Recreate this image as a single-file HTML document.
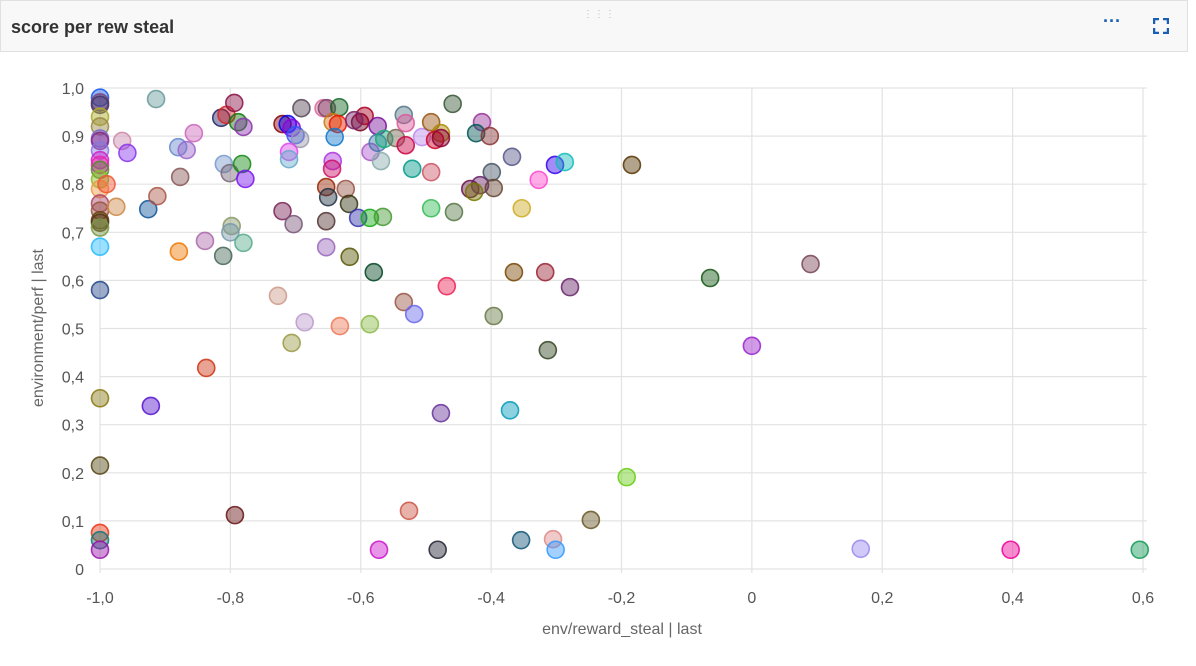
<!DOCTYPE html>
<html><head><meta charset="utf-8"><style>
body{margin:0;width:1196px;height:666px;background:#fff;font-family:"Liberation Sans",sans-serif;overflow:hidden}
#hdr{position:absolute;left:0;top:0;width:1186px;height:50px;background:#f8f8f8;border:1px solid #e0e0e0}
#title{position:absolute;left:10px;top:16px;font-size:18px;font-weight:bold;color:#333}
svg{position:absolute;left:0;top:0}
</style></head><body>
<div id="hdr">
<div id="title">score per rew steal</div>
<div style="position:absolute;left:582px;top:8px;color:#bbb;font-size:10px;letter-spacing:1px">⋮⋮⋮</div>
<div style="position:absolute;left:1102px;top:10px;color:#1a5fb4;font-size:18px;font-weight:bold">···</div>
<div style="position:absolute;left:1152px;top:17px;width:16px;height:16px">
<svg width="16" height="16" style="position:static"><path d="M1 6V1H6M10 1H15V6M15 10V15H10M6 15H1V10" fill="none" stroke="#1a5fb4" stroke-width="2.5"/></svg></div>
</div>
<svg id="chart" width="1196" height="666" style="top:0"></svg>
<script>
const xTicks=[-1.0,-0.8,-0.6,-0.4,-0.2,0,0.2,0.4,0.6];
const yTicks=[0,0.1,0.2,0.3,0.4,0.5,0.6,0.7,0.8,0.9,1.0];
const xs=[-1,-1,-1,-1,-1,-1,-1,-1,-1,-1,-1,-1,-1,-0.99,-1,-1,-1,-1,-1,-1,-1,-1,-1,-1,-1,-1,
-0.914,-0.966,-0.958,-0.975,-0.926,-0.912,-0.877,-0.88,-0.867,-0.856,-0.879,-0.839,-0.811,-0.798,-0.8,-0.78,-0.814,-0.806,-0.794,-0.788,-0.78,-0.81,-0.801,-0.782,-0.777,-0.837,-0.922,-0.793,
-0.727,-0.72,-0.703,-0.706,-0.686,-0.72,-0.712,-0.706,-0.70,-0.693,-0.691,-0.71,-0.71,
-0.657,-0.652,-0.633,-0.643,-0.635,-0.64,-0.643,-0.644,-0.653,-0.623,-0.65,-0.618,-0.653,-0.653,-0.617,-0.632,
-0.601,-0.594,-0.574,-0.61,-0.585,-0.574,-0.564,-0.546,-0.569,-0.534,-0.531,-0.531,-0.521,-0.506,-0.492,-0.477,-0.486,-0.477,-0.492,-0.459,
-0.604,-0.586,-0.566,-0.492,-0.457,-0.58,-0.586,-0.534,-0.518,-0.468,-0.477,-0.526,-0.572,-0.482,
-0.414,-0.423,-0.402,-0.399,-0.368,-0.432,-0.417,-0.426,-0.396,-0.353,-0.327,-0.302,-0.287,-0.184,-0.365,-0.317,-0.279,-0.396,-0.313,-0.371,-0.354,-0.305,-0.301,-0.247,-0.192,-0.064,0.09,0.0,0.167,0.397,0.595];
const ys=[0.98,0.97,0.965,0.94,0.92,0.895,0.89,0.87,0.85,0.84,0.83,0.81,0.79,0.80,0.76,0.745,0.725,0.72,0.71,0.67,0.58,0.355,0.215,0.075,0.06,0.04,
0.977,0.89,0.865,0.753,0.748,0.775,0.815,0.877,0.871,0.906,0.66,0.682,0.651,0.713,0.70,0.678,0.938,0.944,0.969,0.929,0.919,0.842,0.823,0.842,0.811,0.418,0.339,0.112,
0.568,0.744,0.717,0.47,0.513,0.925,0.925,0.917,0.902,0.894,0.958,0.867,0.852,
0.958,0.958,0.96,0.929,0.925,0.898,0.848,0.832,0.794,0.79,0.773,0.759,0.723,0.669,0.649,0.505,
0.929,0.942,0.921,0.933,0.867,0.886,0.894,0.896,0.848,0.944,0.927,0.881,0.832,0.898,0.929,0.906,0.892,0.896,0.825,0.967,
0.73,0.73,0.732,0.75,0.742,0.617,0.509,0.555,0.53,0.588,0.324,0.121,0.04,0.04,
0.929,0.906,0.9,0.825,0.857,0.79,0.798,0.784,0.792,0.75,0.809,0.84,0.846,0.84,0.617,0.617,0.586,0.526,0.455,0.33,0.06,0.062,0.04,0.102,0.191,0.605,0.634,0.464,0.042,0.04,0.04];
const cols=["#1155ee","#774477","#443366","#aaaa22","#998844","#7766cc","#882288","#8877dd","#cc22cc","#ee22aa","#558833","#88bb22","#ee9944","#ee5533","#aa4466","#995544","#664411","#553311","#779944","#22bbff","#224488","#887711","#554411","#ee3311","#117777","#9911aa",
"#669999","#cc88aa","#8833ee","#cc8844","#115599","#aa5544","#885555","#6688cc","#9966cc","#cc66bb","#ee7700","#aa66aa","#446655","#889966","#7799aa","#55aa88","#222266","#dd2222","#881144","#117711","#8833aa","#7799cc","#776677","#118811","#7711ee","#cc3311","#5511cc","#661111",
"#cc9988","#772255","#775577","#999944","#bb99cc","#880000","#0000ee","#8800dd","#3355ee","#9999aa","#554455","#dd44ee","#66aacc",
"#dd6699","#774466","#116622","#cc7711","#ee1100","#1177cc","#aa33dd","#cc1166","#992200","#995544","#223344","#333311","#553333","#9966bb","#555500","#ee7755",
"#770022","#aa0022","#771199","#772266","#aa55cc","#4477aa","#11aa77","#776655","#88aaaa","#557788","#dd5599","#cc0044","#009988","#bb88ee","#995511","#aa8800","#cc0022","#880033","#cc5566","#335533",
"#3333aa","#11aa11","#449933","#33bb55","#557744","#004422","#88bb44","#995544","#6666ee","#ee2255","#663399","#cc5544","#cc11cc","#222233",
"#993399","#005555","#883333","#445566","#555588","#661144","#662266","#777700","#664433","#ccaa22","#ff44cc","#3300ee","#11bbbb","#553300","#774400","#992233","#662266","#667744","#334422","#0099bb","#115577","#dd8888","#3399ff","#665522","#66cc11","#115511","#774455","#9922cc","#9988ee","#ee0099","#119955"];
const NS="http://www.w3.org/2000/svg";
const svg=document.getElementById('chart');
const X0=100,X1=1143,Y0=569,Y1=88;
const xS=v=>X0+(v-(-1))/(0.6-(-1))*(X1-X0);
const yS=v=>Y0-v/1.0*(Y0-Y1);
function mk(t,a){const e=document.createElementNS(NS,t);for(const k in a)e.setAttribute(k,a[k]);svg.appendChild(e);return e;}
const fmt=v=>v.toFixed(1).replace('.',',');
yTicks.forEach(v=>{
 const l=mk('line',{x1:X0,x2:X1+4,y1:yS(v),y2:yS(v),stroke:'#e3e3e3','stroke-width':1.2});
 
 
 const t=mk('text',{x:84,y:yS(v)+6,'text-anchor':'end','font-size':16,fill:'#555'});
 t.textContent=v===0?'0':fmt(v);
 
 
});
xTicks.forEach(v=>{
 const l=mk('line',{x1:xS(v),x2:xS(v),y1:Y1,y2:Y0+4,stroke:'#e3e3e3','stroke-width':1.2});
 
 
 const t=mk('text',{x:xS(v),y:603,'text-anchor':'middle','font-size':16,fill:'#555'});
 t.textContent=v===0?'0':fmt(v);
 
 
});
const xl=mk('text',{x:622,y:634,'text-anchor':'middle','font-size':16,fill:'#666'});
xl.textContent='env/reward_steal | last';


const yl=mk('text',{x:0,y:0,'text-anchor':'middle','font-size':16,fill:'#666',transform:'translate(43,328) rotate(-90)'});
yl.textContent='environment/perf | last';


xs.forEach((v,i)=>{
 const c=cols[i%cols.length];
 const p=mk('circle',{cx:xS(v),cy:yS(ys[i]),r:8.5,fill:c,'fill-opacity':0.45,stroke:c,'stroke-opacity':0.85,'stroke-width':1.6});
 
 
});
</script>
</body></html>
